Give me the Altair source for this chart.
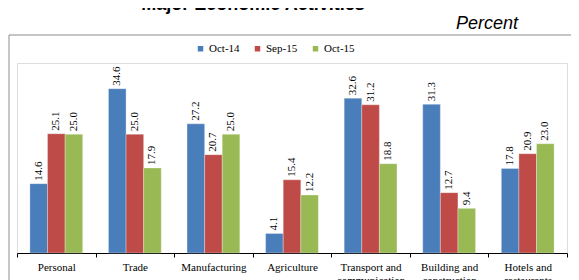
import altair as alt
import pandas as pd

categories = ["Personal", "Trade", "Manufacturing", "Agriculture",
              "Transport and|communication", "Building and|construction",
              "Hotels and|restaurants"]
series = ["Oct-14", "Sep-15", "Oct-15"]
oct14 = [14.6, 34.6, 27.2, 4.1, 32.6, 31.3, 17.8]
sep15 = [25.1, 25.0, 20.7, 15.4, 31.2, 12.7, 20.9]
oct15 = [25.0, 17.9, 25.0, 12.2, 18.8, 9.4, 23.0]
colors = ["#4A7EBB", "#BE4B48", "#98B954"]

rows = []
for s, vals in zip(series, [oct14, sep15, oct15]):
    for c, v in zip(categories, vals):
        rows.append({"category": c, "series": s, "value": v})
df = pd.DataFrame(rows)

serif = "Liberation Serif"

x_enc = alt.X("category:N", sort=categories, title=None,
              scale=alt.Scale(paddingInner=0, paddingOuter=0),
              axis=alt.Axis(labelAngle=0, labelFont=serif, labelFontSize=11,
                            labelColor="#000", domainColor="#000", tickColor="#000",
                            tickSize=4, labelPadding=4, tickBand="extent",
                            labelExpr="split(datum.label, '|')", labelLineHeight=13))
y_enc = alt.Y("value:Q", scale=alt.Scale(domain=[0, 40]), axis=None)

base = alt.Chart(df).encode(
    x=x_enc, y=y_enc,
    xOffset=alt.XOffset("series:N", sort=series,
                        scale=alt.Scale(paddingInner=0, paddingOuter=0.733)),
)

bars = base.mark_bar(stroke="#ffffff", strokeWidth=0.6, strokeOpacity=0.5).encode(
    color=alt.Color("series:N", sort=series,
                    scale=alt.Scale(domain=series, range=colors),
                    legend=alt.Legend(title=None, orient="none", legendX=178, legendY=-20,
                                      direction="horizontal", symbolType="square",
                                      symbolSize=30, labelFont=serif, labelFontSize=11,
                                      labelColor="#000", columnPadding=12,
                                      symbolStrokeWidth=0, labelOffset=3))
)

labels = base.mark_text(angle=270, align="left", baseline="middle", dx=3,
                        font=serif, fontSize=11, color="#000").encode(
    text=alt.Text("value:Q", format=".1f")
)

one = pd.DataFrame({"a": [0]})
frame = alt.Chart(one).mark_rect(fill=None, stroke="#8c8c8c", strokeWidth=1).encode(
    x=alt.value(-8), x2=alt.value(556), y=alt.value(-28), y2=alt.value(260)
)
title = alt.Chart(one).mark_text(font="Liberation Sans", fontSize=18, fontWeight="bold",
                                 align="center", baseline="alphabetic", color="#000").encode(
    x=alt.value(236), y=alt.value(-53), text=alt.value("Major Economic Activities")
)
percent = alt.Chart(one).mark_text(font="Liberation Sans", fontSize=18, fontStyle="italic",
                                   align="right", baseline="alphabetic", color="#000").encode(
    x=alt.value(501), y=alt.value(-34), text=alt.value("Percent")
)

chart = alt.layer(frame, bars, labels, title, percent).properties(
    width=550, height=190,
    autosize=alt.AutoSizeParams(type="none"),
    padding={"left": 9, "top": 55, "right": 4, "bottom": 28},
).configure_view(stroke=None).configure(background="#ffffff")

chart.save("out.html", embed_options={"renderer": "svg", "actions": False})
